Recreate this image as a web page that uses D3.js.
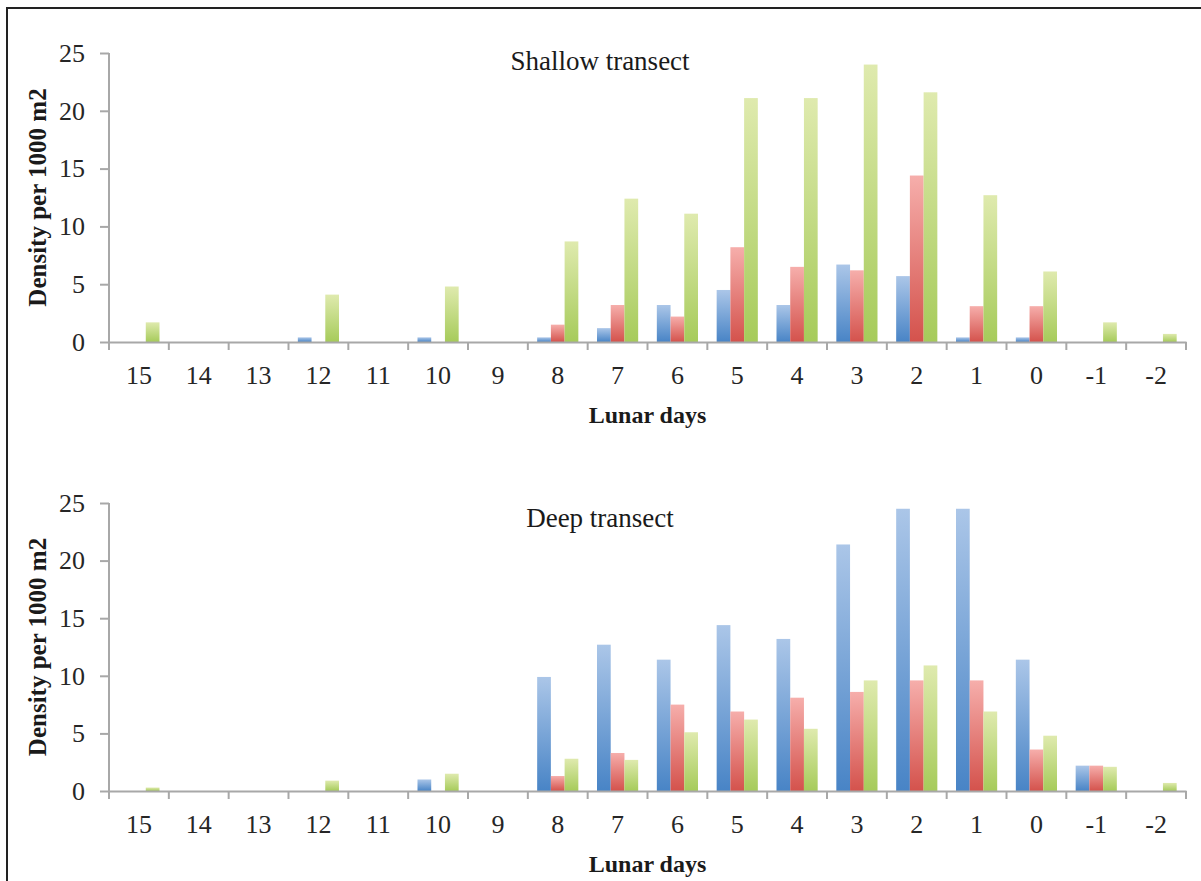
<!DOCTYPE html>
<html>
<head>
<meta charset="utf-8">
<script src="https://cdnjs.cloudflare.com/ajax/libs/d3/7.8.5/d3.min.js"></script>
<style>
  body { margin: 0; background: #fff; }
  svg { display: block; }
  .tick text { font-family: "Liberation Serif", serif; font-size: 26px; fill: #262626; }
</style>
</head>
<body>
<svg id="chart"></svg>
<script>
var days = ["15", "14", "13", "12", "11", "10", "9", "8", "7", "6", "5", "4", "3", "2", "1", "0", "-1", "-2"];
var seriesNames = ["Series 1", "Series 2", "Series 3"];
var yTicks = [0, 5, 10, 15, 20, 25];

// shallow transect
var shallowBlue  = [0, 0, 0, 0.4, 0, 0.4, 0, 0.4, 1.2, 3.2, 4.5, 3.2, 6.7, 5.7, 0.4, 0.4, 0, 0];
var shallowRed   = [0, 0, 0, 0, 0, 0, 0, 1.5, 3.2, 2.2, 8.2, 6.5, 6.2, 14.4, 3.1, 3.1, 0, 0];
var shallowGreen = [1.7, 0, 0, 4.1, 0, 4.8, 0, 8.7, 12.4, 11.1, 21.1, 21.1, 24.0, 21.6, 12.7, 6.1, 1.7, 0.7];

// deep transect
var deepBlue  = [0, 0, 0, 0, 0, 1.0, 0, 9.9, 12.7, 11.4, 14.4, 13.2, 21.4, 24.5, 24.5, 11.4, 2.2, 0];
var deepRed   = [0, 0, 0, 0, 0, 0, 0, 1.3, 3.3, 7.5, 6.9, 8.1, 8.6, 9.6, 9.6, 3.6, 2.2, 0];
var deepGreen = [0.3, 0, 0, 0.9, 0, 1.5, 0, 2.8, 2.7, 5.1, 6.2, 5.4, 9.6, 10.9, 6.9, 4.8, 2.1, 0.7];

var width = 1201, height = 881;
var axisColor = "#a8a8a8";

var svg = d3.select("#chart")
    .attr("width", width)
    .attr("height", height);

// gradients, light at the top, darker at the bottom
var grads = [
    {id: "g0", top: "#abc6e8", bottom: "#4884c6"},
    {id: "g1", top: "#f6aeab", bottom: "#d4524c"},
    {id: "g2", top: "#dfeaae", bottom: "#a6cb5a"}
];
var defs = svg.append("defs");
grads.forEach(function(g){
    var lg = defs.append("linearGradient")
        .attr("id", g.id)
        .attr("x1", 0).attr("y1", 0).attr("x2", 0).attr("y2", 1);
    lg.append("stop").attr("offset", "0%").attr("stop-color", g.top);
    lg.append("stop").attr("offset", "100%").attr("stop-color", g.bottom);
});

// outer frame
svg.append("rect")
    .attr("x", 7).attr("y", 8)
    .attr("width", 1210).attr("height", 900)
    .attr("fill", "none")
    .attr("stroke", "#222")
    .attr("stroke-width", 2);

var left = 109, right = 1186;

function drawPanel(top, bottom, series, title, titleY){
    var x = d3.scaleBand()
        .domain(days)
        .range([left, right])
        .padding(0);

    var x1 = d3.scaleBand()
        .domain(seriesNames)
        .range([0, x.bandwidth()])
        .paddingInner(0)
        .paddingOuter(0.68);

    var y = d3.scaleLinear()
        .domain([0, 25])
        .range([bottom, top]);

    var g = svg.append("g");

    // bars
    series.forEach(function(vals, si){
        g.selectAll(".bar" + si)
            .data(vals.map(function(v, i){ return {day: days[i], v: v}; }).filter(function(d){ return d.v > 0; }))
            .enter().append("rect")
            .attr("x", function(d){ return x(d.day) + x1(seriesNames[si]); })
            .attr("y", function(d){ return y(d.v); })
            .attr("width", x1.bandwidth())
            .attr("height", function(d){ return y(0) - y(d.v); })
            .attr("fill", "url(#g" + si + ")");
    });

    // y axis
    var yAxis = g.append("g")
        .attr("transform", "translate(" + left + ",0)")
        .call(d3.axisLeft(y).tickValues(yTicks).tickSize(9).tickSizeOuter(0).tickPadding(15));
    yAxis.select(".domain").attr("stroke", axisColor).attr("stroke-width", 2)
        .attr("d", "M0," + top + "V" + (bottom + 8));
    yAxis.selectAll(".tick line").attr("stroke", axisColor).attr("stroke-width", 2);

    // x axis: labels at band centres, ticks on band edges
    var xAxis = g.append("g")
        .attr("transform", "translate(0," + bottom + ")")
        .call(d3.axisBottom(x).tickSize(0).tickSizeOuter(0).tickPadding(24));
    xAxis.select(".domain").attr("stroke", axisColor).attr("stroke-width", 2);

    var edges = days.map(function(d){ return x(d); }).concat([x(days[days.length - 1]) + x.bandwidth()]);
    xAxis.selectAll(".edge")
        .data(edges)
        .enter().append("line")
        .attr("x1", function(d){ return d; })
        .attr("x2", function(d){ return d; })
        .attr("y1", 0)
        .attr("y2", 8)
        .attr("stroke", axisColor)
        .attr("stroke-width", 2);

    // panel title
    g.append("text")
        .attr("x", 600)
        .attr("y", titleY)
        .attr("text-anchor", "middle")
        .style("font-family", "Liberation Serif, serif")
        .style("font-size", "27px")
        .attr("fill", "#1a1a1a")
        .text(title);

    // axis titles
    g.append("text")
        .attr("x", (left + right) / 2)
        .attr("y", bottom + 81)
        .attr("text-anchor", "middle")
        .style("font-family", "Liberation Serif, serif")
        .style("font-size", "24px")
        .style("font-weight", "bold")
        .attr("fill", "#1a1a1a")
        .text("Lunar days");

    g.append("text")
        .attr("transform", "translate(46," + ((top + bottom) / 2) + ") rotate(-90)")
        .attr("text-anchor", "middle")
        .style("font-family", "Liberation Serif, serif")
        .style("font-size", "25px")
        .style("font-weight", "bold")
        .attr("fill", "#1a1a1a")
        .text("Density per 1000 m2");
}

drawPanel(53, 342, [shallowBlue, shallowRed, shallowGreen], "Shallow transect", 70);
drawPanel(503, 791, [deepBlue, deepRed, deepGreen], "Deep transect", 527);
</script>
</body>
</html>
